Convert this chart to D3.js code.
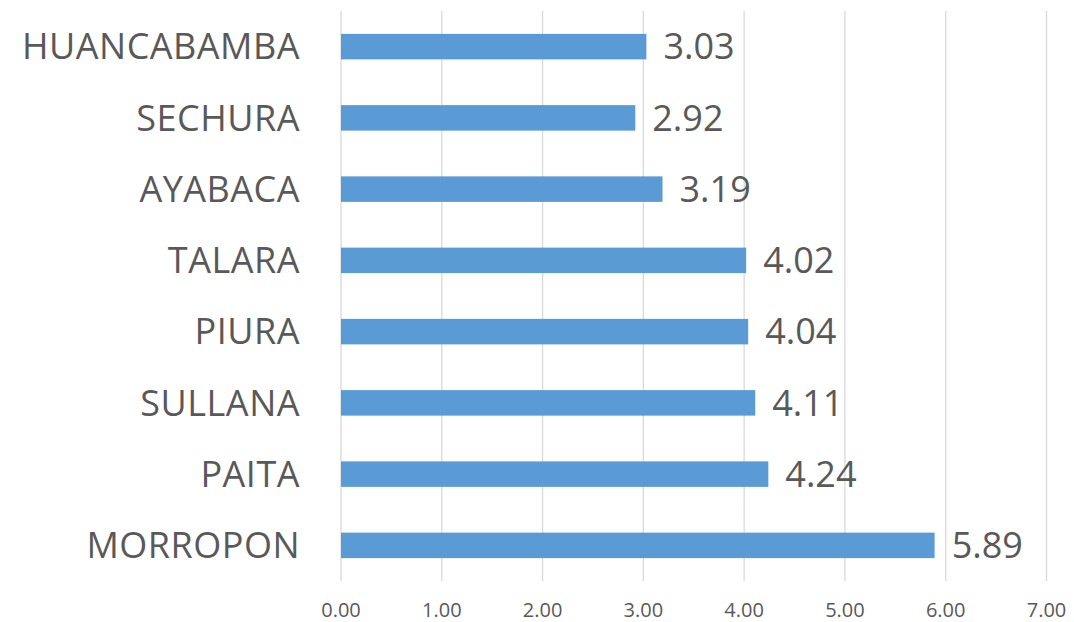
<!DOCTYPE html>
<html>

<head>
    <meta charset="utf-8">
    <title>Provincias</title>
    <script src="https://cdnjs.cloudflare.com/ajax/libs/d3/7.8.5/d3.min.js"></script>
    <style>
        body { margin: 0; background: #fff; }
        text { font-family: "Open Sans", sans-serif; fill: #595959; }
    </style>
</head>

<body>
    <script>
        var provinces = ["HUANCABAMBA", "SECHURA", "AYABACA", "TALARA", "PIURA", "SULLANA", "PAITA", "MORROPON"];
        var values = [3.03, 2.92, 3.19, 4.02, 4.04, 4.11, 4.24, 5.89];
        var ticks = [0, 1, 2, 3, 4, 5, 6, 7];

        var w = 1074, h = 622;

        var svg = d3.select("body")
            .append("svg")
            .attr("width", w)
            .attr("height", h);

        var x = d3.scaleLinear()
            .domain([0, 7])
            .range([341, 1046.5]);

        var y = d3.scaleBand()
            .domain(provinces)
            .range([11, 581])
            .paddingInner(0.642)
            .paddingOuter(0.321);

        // vertical grid
        svg.append("g")
            .selectAll("line")
            .data(ticks)
            .enter()
            .append("line")
            .attr("x1", d => x(d))
            .attr("x2", d => x(d))
            .attr("y1", 11)
            .attr("y2", 581)
            .attr("stroke", "#d9d9d9")
            .attr("stroke-width", 1.3);

        // tick labels
        svg.append("g")
            .selectAll("text")
            .data(ticks)
            .enter()
            .append("text")
            .attr("x", d => x(d))
            .attr("y", 616.5)
            .attr("text-anchor", "middle")
            .style("font-size", "20px")
            .text(d => d3.format(".2f")(d));

        // bars
        svg.append("g")
            .selectAll("rect")
            .data(values)
            .enter()
            .append("rect")
            .attr("x", x(0))
            .attr("y", (d, i) => y(provinces[i]))
            .attr("width", d => x(d) - x(0))
            .attr("height", y.bandwidth())
            .attr("fill", "#5b9bd5");

        // value labels
        svg.append("g")
            .selectAll("text")
            .data(values)
            .enter()
            .append("text")
            .attr("x", d => x(d) + 17)
            .attr("y", (d, i) => y(provinces[i]) + y.bandwidth() / 2)
            .attr("dy", "0.357em")
            .style("font-size", "36px")
            .text(d => d3.format(".2f")(d));

        // category labels
        svg.append("g")
            .selectAll("text")
            .data(provinces)
            .enter()
            .append("text")
            .attr("x", 300)
            .attr("y", d => y(d) + y.bandwidth() / 2)
            .attr("dy", "0.357em")
            .attr("text-anchor", "end")
            .style("font-size", "36px")
            .style("letter-spacing", "0.5px")
            .text(d => d);
    </script>
</body>

</html>
